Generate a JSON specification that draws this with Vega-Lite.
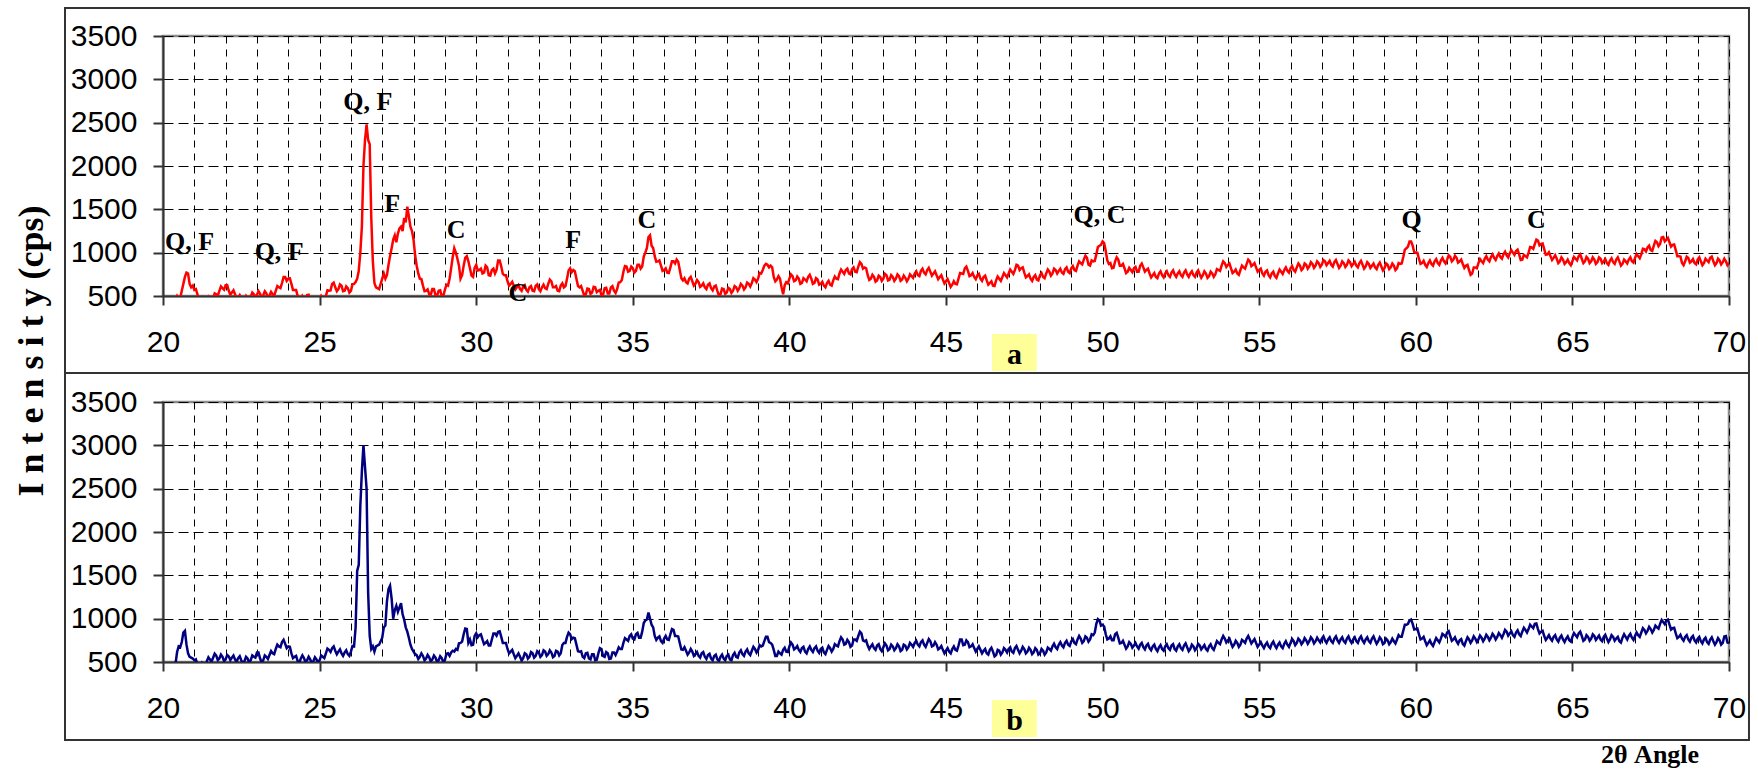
{
"$schema": "https://vega.github.io/schema/vega-lite/v6.json",
"padding": 0,
"background": "white",
"spacing": 106,
"bounds": "flush",
"config": {
 "view": {"stroke": "#8c8c8c", "strokeWidth": 2.5},
 "axis": {"labelFont": "Liberation Sans", "labelFontSize": 30, "labelColor": "#000000", "tickWidth": 2, "tickColor": "#333333", "grid": true, "gridColor": "#000000", "gridWidth": 1, "domainColor": "#333333", "domainWidth": 2}
},
"datasets": {
"xrd": [
{"t":20.0,"a":420,"b":420},{"t":20.1,"a":430,"b":430},{"t":20.2,"a":440,"b":440},{"t":20.3,"a":450,"b":450},{"t":20.4,"a":460,"b":480},
{"t":20.5,"a":470,"b":680},{"t":20.6,"a":560,"b":730},{"t":20.65,"a":640,"b":840},{"t":20.7,"a":720,"b":860},{"t":20.75,"a":770,"b":700},
{"t":20.8,"a":760,"b":600},{"t":20.85,"a":640,"b":560},{"t":20.9,"a":600,"b":550},{"t":20.95,"a":620,"b":540},{"t":21.0,"a":570,"b":520},
{"t":21.1,"a":520,"b":470},{"t":21.2,"a":450,"b":440},{"t":21.3,"a":440,"b":470},{"t":21.4,"a":450,"b":510},{"t":21.5,"a":460,"b":530},
{"t":21.6,"a":470,"b":550},{"t":21.7,"a":520,"b":575},{"t":21.8,"a":560,"b":540},{"t":21.9,"a":590,"b":560},{"t":22.0,"a":625,"b":530},
{"t":22.1,"a":560,"b":565},{"t":22.2,"a":540,"b":550},{"t":22.3,"a":520,"b":530},{"t":22.4,"a":480,"b":545},{"t":22.5,"a":470,"b":520},
{"t":22.6,"a":460,"b":510},{"t":22.7,"a":470,"b":540},{"t":22.8,"a":490,"b":520},{"t":22.9,"a":520,"b":560},{"t":23.0,"a":515,"b":610},
{"t":23.1,"a":525,"b":540},{"t":23.2,"a":510,"b":520},{"t":23.3,"a":530,"b":560},{"t":23.4,"a":505,"b":580},{"t":23.5,"a":520,"b":600},
{"t":23.6,"a":560,"b":650},{"t":23.7,"a":600,"b":680},{"t":23.8,"a":650,"b":730},{"t":23.9,"a":720,"b":710},{"t":24.0,"a":700,"b":680},
{"t":24.1,"a":640,"b":600},{"t":24.2,"a":570,"b":560},{"t":24.3,"a":500,"b":510},{"t":24.4,"a":460,"b":540},{"t":24.5,"a":470,"b":545},
{"t":24.6,"a":510,"b":520},{"t":24.7,"a":450,"b":530},{"t":24.8,"a":440,"b":510},{"t":24.9,"a":450,"b":530},{"t":25.0,"a":460,"b":520},
{"t":25.1,"a":470,"b":560},{"t":25.2,"a":500,"b":600},{"t":25.3,"a":560,"b":640},{"t":25.4,"a":640,"b":660},{"t":25.5,"a":600,"b":630},
{"t":25.6,"a":580,"b":620},{"t":25.7,"a":620,"b":600},{"t":25.8,"a":560,"b":610},{"t":25.9,"a":590,"b":590},{"t":26.0,"a":560,"b":620},
{"t":26.1,"a":640,"b":680},{"t":26.15,"a":660,"b":900},{"t":26.2,"a":700,"b":1550},{"t":26.25,"a":790,"b":1620},{"t":26.3,"a":1000,"b":2300},
{"t":26.35,"a":1300,"b":2700},{"t":26.4,"a":2000,"b":3000},{"t":26.45,"a":2300,"b":2750},{"t":26.5,"a":2480,"b":2500},{"t":26.55,"a":2300,"b":1300},
{"t":26.6,"a":2250,"b":800},{"t":26.65,"a":1400,"b":650},{"t":26.7,"a":900,"b":680},{"t":26.75,"a":650,"b":620},{"t":26.8,"a":600,"b":680},
{"t":26.9,"a":580,"b":700},{"t":27.0,"a":700,"b":780},{"t":27.05,"a":760,"b":900},{"t":27.1,"a":700,"b":920},{"t":27.15,"a":740,"b":1200},
{"t":27.2,"a":860,"b":1340},{"t":27.25,"a":960,"b":1380},{"t":27.3,"a":1050,"b":1230},{"t":27.35,"a":1150,"b":1000},{"t":27.4,"a":1200,"b":1100},
{"t":27.45,"a":1120,"b":1150},{"t":27.5,"a":1220,"b":1080},{"t":27.55,"a":1280,"b":1130},{"t":27.6,"a":1300,"b":1180},{"t":27.65,"a":1250,"b":1050},
{"t":27.7,"a":1400,"b":990},{"t":27.75,"a":1350,"b":900},{"t":27.8,"a":1530,"b":850},{"t":27.85,"a":1420,"b":780},{"t":27.9,"a":1300,"b":700},
{"t":27.95,"a":1250,"b":650},{"t":28.0,"a":1150,"b":620},{"t":28.05,"a":970,"b":590},{"t":28.1,"a":850,"b":580},{"t":28.2,"a":700,"b":560},
{"t":28.3,"a":620,"b":570},{"t":28.4,"a":560,"b":540},{"t":28.5,"a":520,"b":555},{"t":28.6,"a":580,"b":530},{"t":28.7,"a":510,"b":550},
{"t":28.8,"a":560,"b":520},{"t":28.9,"a":500,"b":545},{"t":29.0,"a":570,"b":520},{"t":29.1,"a":620,"b":600},{"t":29.2,"a":820,"b":610},
{"t":29.25,"a":950,"b":630},{"t":29.3,"a":1050,"b":620},{"t":29.35,"a":1000,"b":650},{"t":29.4,"a":930,"b":640},{"t":29.5,"a":700,"b":720},
{"t":29.6,"a":850,"b":820},{"t":29.7,"a":960,"b":880},{"t":29.75,"a":900,"b":720},{"t":29.8,"a":820,"b":760},{"t":29.9,"a":720,"b":700},
{"t":30.0,"a":860,"b":830},{"t":30.1,"a":800,"b":810},{"t":30.2,"a":760,"b":760},{"t":30.3,"a":850,"b":720},{"t":30.4,"a":740,"b":690},
{"t":30.5,"a":800,"b":760},{"t":30.6,"a":760,"b":830},{"t":30.7,"a":910,"b":850},{"t":30.8,"a":840,"b":790},{"t":30.9,"a":740,"b":720},
{"t":31.0,"a":670,"b":650},{"t":31.1,"a":640,"b":620},{"t":31.2,"a":620,"b":590},{"t":31.3,"a":600,"b":570},{"t":31.4,"a":580,"b":560},
{"t":31.5,"a":610,"b":545},{"t":31.6,"a":570,"b":590},{"t":31.7,"a":600,"b":560},{"t":31.8,"a":560,"b":600},{"t":31.9,"a":620,"b":570},
{"t":32.0,"a":580,"b":610},{"t":32.1,"a":600,"b":580},{"t":32.2,"a":590,"b":620},{"t":32.3,"a":640,"b":590},{"t":32.4,"a":670,"b":610},
{"t":32.5,"a":600,"b":570},{"t":32.6,"a":560,"b":620},{"t":32.7,"a":620,"b":600},{"t":32.8,"a":600,"b":720},{"t":32.9,"a":700,"b":790},
{"t":33.0,"a":820,"b":820},{"t":33.1,"a":800,"b":780},{"t":33.2,"a":700,"b":700},{"t":33.3,"a":600,"b":620},{"t":33.4,"a":560,"b":560},
{"t":33.5,"a":520,"b":600},{"t":33.6,"a":580,"b":540},{"t":33.7,"a":540,"b":590},{"t":33.8,"a":600,"b":520},{"t":33.9,"a":560,"b":600},
{"t":34.0,"a":510,"b":650},{"t":34.1,"a":590,"b":560},{"t":34.2,"a":530,"b":600},{"t":34.3,"a":600,"b":540},{"t":34.4,"a":560,"b":610},
{"t":34.5,"a":580,"b":620},{"t":34.6,"a":660,"b":650},{"t":34.7,"a":780,"b":720},{"t":34.8,"a":840,"b":760},{"t":34.9,"a":790,"b":800},
{"t":35.0,"a":820,"b":770},{"t":35.1,"a":790,"b":820},{"t":35.2,"a":860,"b":780},{"t":35.3,"a":840,"b":850},{"t":35.4,"a":1000,"b":980},
{"t":35.5,"a":1180,"b":1070},{"t":35.55,"a":1200,"b":1000},{"t":35.6,"a":1080,"b":930},{"t":35.7,"a":960,"b":800},{"t":35.8,"a":900,"b":780},
{"t":35.9,"a":850,"b":740},{"t":36.0,"a":800,"b":770},{"t":36.1,"a":770,"b":760},{"t":36.2,"a":830,"b":820},{"t":36.3,"a":900,"b":870},
{"t":36.4,"a":920,"b":800},{"t":36.5,"a":800,"b":720},{"t":36.6,"a":680,"b":640},{"t":36.7,"a":660,"b":630},{"t":36.8,"a":700,"b":610},
{"t":36.9,"a":670,"b":620},{"t":37.0,"a":640,"b":590},{"t":37.1,"a":660,"b":570},{"t":37.2,"a":620,"b":600},{"t":37.3,"a":600,"b":560},
{"t":37.4,"a":630,"b":580},{"t":37.5,"a":590,"b":540},{"t":37.6,"a":610,"b":570},{"t":37.7,"a":560,"b":530},{"t":37.8,"a":520,"b":560},
{"t":37.9,"a":580,"b":540},{"t":38.0,"a":540,"b":570},{"t":38.1,"a":580,"b":530},{"t":38.2,"a":560,"b":580},{"t":38.3,"a":600,"b":560},
{"t":38.4,"a":590,"b":610},{"t":38.5,"a":620,"b":590},{"t":38.6,"a":600,"b":620},{"t":38.7,"a":640,"b":600},{"t":38.8,"a":650,"b":630},
{"t":38.9,"a":690,"b":650},{"t":39.0,"a":700,"b":640},{"t":39.1,"a":760,"b":680},{"t":39.2,"a":850,"b":740},{"t":39.3,"a":860,"b":790},
{"t":39.4,"a":850,"b":720},{"t":39.5,"a":720,"b":640},{"t":39.6,"a":690,"b":570},{"t":39.7,"a":700,"b":600},{"t":39.8,"a":520,"b":640},
{"t":39.9,"a":660,"b":620},{"t":40.0,"a":700,"b":680},{"t":40.1,"a":730,"b":700},{"t":40.2,"a":680,"b":660},{"t":40.3,"a":700,"b":640},
{"t":40.4,"a":650,"b":660},{"t":40.5,"a":690,"b":620},{"t":40.6,"a":720,"b":650},{"t":40.7,"a":700,"b":640},{"t":40.8,"a":650,"b":660},
{"t":40.9,"a":690,"b":630},{"t":41.0,"a":640,"b":650},{"t":41.1,"a":620,"b":610},{"t":41.2,"a":650,"b":640},{"t":41.3,"a":630,"b":660},
{"t":41.4,"a":680,"b":650},{"t":41.5,"a":700,"b":690},{"t":41.6,"a":760,"b":740},{"t":41.7,"a":780,"b":760},{"t":41.8,"a":800,"b":710},
{"t":41.9,"a":760,"b":730},{"t":42.0,"a":810,"b":690},{"t":42.1,"a":780,"b":760},{"t":42.2,"a":840,"b":800},{"t":42.3,"a":870,"b":830},
{"t":42.4,"a":830,"b":740},{"t":42.5,"a":740,"b":690},{"t":42.6,"a":700,"b":680},{"t":42.7,"a":720,"b":660},{"t":42.8,"a":680,"b":690},
{"t":42.9,"a":720,"b":650},{"t":43.0,"a":700,"b":670},{"t":43.1,"a":740,"b":690},{"t":43.2,"a":690,"b":650},{"t":43.3,"a":720,"b":680},
{"t":43.4,"a":700,"b":660},{"t":43.5,"a":730,"b":680},{"t":43.6,"a":690,"b":640},{"t":43.7,"a":710,"b":690},{"t":43.8,"a":700,"b":670},
{"t":43.9,"a":730,"b":700},{"t":44.0,"a":760,"b":720},{"t":44.1,"a":740,"b":700},{"t":44.2,"a":790,"b":730},{"t":44.3,"a":770,"b":700},
{"t":44.4,"a":800,"b":720},{"t":44.5,"a":780,"b":740},{"t":44.6,"a":760,"b":690},{"t":44.7,"a":740,"b":700},{"t":44.8,"a":720,"b":660},
{"t":44.9,"a":690,"b":640},{"t":45.0,"a":670,"b":630},{"t":45.1,"a":650,"b":620},{"t":45.2,"a":630,"b":650},{"t":45.3,"a":640,"b":640},
{"t":45.4,"a":700,"b":690},{"t":45.5,"a":760,"b":760},{"t":45.6,"a":820,"b":700},{"t":45.7,"a":790,"b":730},{"t":45.8,"a":740,"b":680},
{"t":45.9,"a":720,"b":660},{"t":46.0,"a":740,"b":650},{"t":46.1,"a":700,"b":640},{"t":46.2,"a":720,"b":630},{"t":46.3,"a":680,"b":600},
{"t":46.4,"a":650,"b":640},{"t":46.5,"a":620,"b":620},{"t":46.6,"a":680,"b":580},{"t":46.7,"a":700,"b":630},{"t":46.8,"a":720,"b":610},
{"t":46.9,"a":740,"b":640},{"t":47.0,"a":760,"b":650},{"t":47.1,"a":780,"b":620},{"t":47.2,"a":800,"b":660},{"t":47.3,"a":850,"b":640},
{"t":47.4,"a":820,"b":630},{"t":47.5,"a":770,"b":650},{"t":47.6,"a":730,"b":620},{"t":47.7,"a":700,"b":640},{"t":47.8,"a":720,"b":610},
{"t":47.9,"a":690,"b":640},{"t":48.0,"a":740,"b":600},{"t":48.1,"a":720,"b":630},{"t":48.2,"a":760,"b":610},{"t":48.3,"a":780,"b":650},
{"t":48.4,"a":760,"b":680},{"t":48.5,"a":800,"b":670},{"t":48.6,"a":790,"b":700},{"t":48.7,"a":770,"b":690},{"t":48.8,"a":810,"b":720},
{"t":48.9,"a":780,"b":700},{"t":49.0,"a":820,"b":740},{"t":49.1,"a":800,"b":720},{"t":49.2,"a":850,"b":760},{"t":49.3,"a":880,"b":770},
{"t":49.4,"a":920,"b":740},{"t":49.5,"a":940,"b":780},{"t":49.6,"a":850,"b":760},{"t":49.7,"a":900,"b":810},{"t":49.8,"a":980,"b":940},
{"t":49.9,"a":1080,"b":980},{"t":50.0,"a":1130,"b":930},{"t":50.1,"a":1020,"b":820},{"t":50.2,"a":870,"b":770},{"t":50.3,"a":820,"b":750},
{"t":50.4,"a":900,"b":820},{"t":50.5,"a":920,"b":780},{"t":50.6,"a":850,"b":720},{"t":50.7,"a":820,"b":700},{"t":50.8,"a":780,"b":680},
{"t":50.9,"a":800,"b":710},{"t":51.0,"a":820,"b":690},{"t":51.1,"a":780,"b":680},{"t":51.2,"a":850,"b":700},{"t":51.3,"a":830,"b":670},
{"t":51.4,"a":800,"b":690},{"t":51.5,"a":760,"b":660},{"t":51.6,"a":740,"b":680},{"t":51.7,"a":720,"b":650},{"t":51.8,"a":760,"b":670},
{"t":51.9,"a":740,"b":650},{"t":52.0,"a":760,"b":680},{"t":52.1,"a":740,"b":660},{"t":52.2,"a":770,"b":690},{"t":52.3,"a":750,"b":650},
{"t":52.4,"a":760,"b":680},{"t":52.5,"a":740,"b":660},{"t":52.6,"a":770,"b":690},{"t":52.7,"a":750,"b":670},{"t":52.8,"a":760,"b":650},
{"t":52.9,"a":740,"b":680},{"t":53.0,"a":770,"b":660},{"t":53.1,"a":750,"b":690},{"t":53.2,"a":740,"b":670},{"t":53.3,"a":760,"b":650},
{"t":53.4,"a":730,"b":680},{"t":53.5,"a":760,"b":660},{"t":53.6,"a":750,"b":690},{"t":53.7,"a":800,"b":720},{"t":53.8,"a":850,"b":760},
{"t":53.9,"a":880,"b":770},{"t":54.0,"a":860,"b":750},{"t":54.1,"a":820,"b":720},{"t":54.2,"a":780,"b":700},{"t":54.3,"a":760,"b":720},
{"t":54.4,"a":800,"b":700},{"t":54.5,"a":830,"b":740},{"t":54.6,"a":870,"b":770},{"t":54.7,"a":900,"b":760},{"t":54.8,"a":860,"b":740},
{"t":54.9,"a":830,"b":720},{"t":55.0,"a":800,"b":700},{"t":55.1,"a":760,"b":690},{"t":55.2,"a":780,"b":700},{"t":55.3,"a":740,"b":680},
{"t":55.4,"a":760,"b":710},{"t":55.5,"a":730,"b":690},{"t":55.6,"a":760,"b":700},{"t":55.7,"a":780,"b":680},{"t":55.8,"a":800,"b":710},
{"t":55.9,"a":790,"b":700},{"t":56.0,"a":820,"b":720},{"t":56.1,"a":800,"b":740},{"t":56.2,"a":830,"b":720},{"t":56.3,"a":850,"b":750},
{"t":56.4,"a":820,"b":730},{"t":56.5,"a":860,"b":750},{"t":56.6,"a":840,"b":740},{"t":56.7,"a":870,"b":760},{"t":56.8,"a":850,"b":740},
{"t":56.9,"a":880,"b":750},{"t":57.0,"a":860,"b":770},{"t":57.1,"a":900,"b":750},{"t":57.2,"a":880,"b":760},{"t":57.3,"a":860,"b":740},
{"t":57.4,"a":890,"b":770},{"t":57.5,"a":870,"b":750},{"t":57.6,"a":850,"b":760},{"t":57.7,"a":880,"b":740},{"t":57.8,"a":860,"b":770},
{"t":57.9,"a":890,"b":750},{"t":58.0,"a":870,"b":760},{"t":58.1,"a":850,"b":740},{"t":58.2,"a":880,"b":770},{"t":58.3,"a":860,"b":750},
{"t":58.4,"a":840,"b":760},{"t":58.5,"a":870,"b":740},{"t":58.6,"a":850,"b":770},{"t":58.7,"a":830,"b":750},{"t":58.8,"a":860,"b":740},
{"t":58.9,"a":840,"b":760},{"t":59.0,"a":820,"b":720},{"t":59.1,"a":860,"b":750},{"t":59.2,"a":830,"b":730},{"t":59.3,"a":850,"b":740},
{"t":59.4,"a":820,"b":760},{"t":59.5,"a":870,"b":790},{"t":59.6,"a":950,"b":860},{"t":59.7,"a":1050,"b":930},{"t":59.8,"a":1130,"b":980},
{"t":59.9,"a":1080,"b":940},{"t":60.0,"a":1000,"b":880},{"t":60.1,"a":930,"b":820},{"t":60.2,"a":880,"b":770},{"t":60.3,"a":860,"b":740},
{"t":60.4,"a":880,"b":720},{"t":60.5,"a":870,"b":710},{"t":60.6,"a":900,"b":730},{"t":60.7,"a":880,"b":750},{"t":60.8,"a":910,"b":770},
{"t":60.9,"a":900,"b":810},{"t":61.0,"a":920,"b":840},{"t":61.1,"a":950,"b":800},{"t":61.2,"a":920,"b":760},{"t":61.3,"a":940,"b":740},
{"t":61.4,"a":900,"b":750},{"t":61.5,"a":870,"b":710},{"t":61.6,"a":850,"b":740},{"t":61.7,"a":800,"b":760},{"t":61.8,"a":760,"b":750},
{"t":61.9,"a":830,"b":770},{"t":62.0,"a":880,"b":760},{"t":62.1,"a":900,"b":780},{"t":62.2,"a":930,"b":770},{"t":62.3,"a":920,"b":790},
{"t":62.4,"a":950,"b":780},{"t":62.5,"a":940,"b":800},{"t":62.6,"a":960,"b":790},{"t":62.7,"a":950,"b":810},{"t":62.8,"a":980,"b":820},
{"t":62.9,"a":970,"b":850},{"t":63.0,"a":990,"b":830},{"t":63.1,"a":1000,"b":810},{"t":63.2,"a":1020,"b":840},{"t":63.3,"a":980,"b":820},
{"t":63.4,"a":920,"b":850},{"t":63.5,"a":960,"b":870},{"t":63.6,"a":1000,"b":880},{"t":63.7,"a":1060,"b":910},{"t":63.8,"a":1100,"b":940},
{"t":63.9,"a":1140,"b":880},{"t":64.0,"a":1100,"b":850},{"t":64.1,"a":1040,"b":800},{"t":64.2,"a":980,"b":780},{"t":64.3,"a":960,"b":770},
{"t":64.4,"a":940,"b":790},{"t":64.5,"a":930,"b":760},{"t":64.6,"a":900,"b":780},{"t":64.7,"a":920,"b":760},{"t":64.8,"a":890,"b":770},
{"t":64.9,"a":880,"b":750},{"t":65.0,"a":900,"b":790},{"t":65.1,"a":930,"b":810},{"t":65.2,"a":960,"b":830},{"t":65.3,"a":930,"b":800},
{"t":65.4,"a":900,"b":760},{"t":65.5,"a":930,"b":790},{"t":65.6,"a":900,"b":770},{"t":65.7,"a":920,"b":800},{"t":65.8,"a":890,"b":780},
{"t":65.9,"a":930,"b":760},{"t":66.0,"a":900,"b":790},{"t":66.1,"a":880,"b":770},{"t":66.2,"a":910,"b":760},{"t":66.3,"a":890,"b":790},
{"t":66.4,"a":920,"b":770},{"t":66.5,"a":900,"b":740},{"t":66.6,"a":870,"b":780},{"t":66.7,"a":900,"b":790},{"t":66.8,"a":920,"b":800},
{"t":66.9,"a":900,"b":780},{"t":67.0,"a":940,"b":800},{"t":67.1,"a":960,"b":810},{"t":67.2,"a":980,"b":840},{"t":67.3,"a":1040,"b":870},
{"t":67.4,"a":1060,"b":860},{"t":67.5,"a":1030,"b":880},{"t":67.6,"a":1080,"b":870},{"t":67.7,"a":1120,"b":900},{"t":67.8,"a":1100,"b":940},
{"t":67.9,"a":1180,"b":960},{"t":68.0,"a":1150,"b":980},{"t":68.1,"a":1120,"b":930},{"t":68.2,"a":1090,"b":890},{"t":68.3,"a":1030,"b":830},
{"t":68.4,"a":960,"b":790},{"t":68.5,"a":880,"b":770},{"t":68.6,"a":900,"b":790},{"t":68.7,"a":940,"b":760},{"t":68.8,"a":900,"b":780},
{"t":68.9,"a":880,"b":750},{"t":69.0,"a":920,"b":770},{"t":69.1,"a":900,"b":740},{"t":69.2,"a":880,"b":760},{"t":69.3,"a":910,"b":730},
{"t":69.4,"a":940,"b":760},{"t":69.5,"a":900,"b":740},{"t":69.6,"a":880,"b":730},{"t":69.7,"a":910,"b":750},{"t":69.8,"a":890,"b":720},
{"t":69.9,"a":900,"b":800},{"t":70.0,"a":880,"b":720},
{"t":20.45,"a":500,"b":615},{"t":20.55,"a":480,"b":670},{"t":21.05,"a":580,"b":530},{"t":21.15,"a":450,"b":420},{"t":21.25,"a":480,"b":490},
{"t":21.35,"a":410,"b":455},{"t":21.45,"a":490,"b":555},{"t":21.55,"a":430,"b":505},{"t":21.65,"a":530,"b":597},{"t":21.75,"a":505,"b":522},
{"t":21.85,"a":610,"b":585},{"t":21.95,"a":572,"b":510},{"t":22.05,"a":627,"b":582},{"t":22.15,"a":515,"b":522},{"t":22.25,"a":565,"b":575},
{"t":22.35,"a":465,"b":502},{"t":22.45,"a":510,"b":567},{"t":22.55,"a":430,"b":480},{"t":22.65,"a":500,"b":560},{"t":22.75,"a":445,"b":495},
{"t":22.85,"a":540,"b":575},{"t":22.95,"a":482,"b":550},{"t":23.05,"a":555,"b":610},{"t":23.15,"a":482,"b":495},{"t":23.25,"a":555,"b":575},
{"t":23.35,"a":482,"b":535},{"t":23.45,"a":547,"b":625},{"t":23.55,"a":505,"b":590},{"t":23.65,"a":615,"b":700},{"t":23.75,"a":590,"b":670},
{"t":23.85,"a":720,"b":755},{"t":23.95,"a":675,"b":660},{"t":24.05,"a":705,"b":675},{"t":24.15,"a":570,"b":545},{"t":24.25,"a":570,"b":570},
{"t":24.35,"a":445,"b":490},{"t":24.45,"a":500,"b":577},{"t":24.55,"a":455,"b":497},{"t":24.65,"a":515,"b":560},{"t":24.75,"a":410,"b":485},
{"t":24.85,"a":480,"b":555},{"t":24.95,"a":420,"b":490},{"t":25.05,"a":500,"b":575},{"t":25.15,"a":450,"b":545},{"t":25.25,"a":565,"b":655},
{"t":25.35,"a":565,"b":615},{"t":25.45,"a":655,"b":680},{"t":25.55,"a":555,"b":590},{"t":25.65,"a":635,"b":645},{"t":25.75,"a":555,"b":570},
{"t":25.85,"a":610,"b":635},{"t":25.95,"a":540,"b":570},{"t":26.05,"a":635,"b":685},{"t":28.15,"a":760,"b":535},{"t":28.25,"a":695,"b":600},
{"t":28.35,"a":555,"b":520},{"t":28.45,"a":575,"b":582},{"t":28.55,"a":515,"b":507},{"t":28.65,"a":580,"b":575},{"t":28.75,"a":500,"b":500},
{"t":28.85,"a":565,"b":567},{"t":28.95,"a":500,"b":497},{"t":29.05,"a":630,"b":595},{"t":29.15,"a":700,"b":570},{"t":29.45,"a":850,"b":715},
{"t":29.55,"a":740,"b":735},{"t":29.65,"a":940,"b":885},{"t":29.85,"a":735,"b":695},{"t":29.95,"a":825,"b":800},{"t":30.05,"a":795,"b":785},
{"t":30.15,"a":815,"b":820},{"t":30.25,"a":770,"b":705},{"t":30.35,"a":830,"b":740},{"t":30.45,"a":735,"b":690},{"t":30.55,"a":815,"b":830},
{"t":30.65,"a":800,"b":805},{"t":30.75,"a":910,"b":855},{"t":30.85,"a":755,"b":720},{"t":30.95,"a":740,"b":720},{"t":31.05,"a":620,"b":600},
{"t":31.15,"a":665,"b":640},{"t":31.25,"a":575,"b":545},{"t":31.35,"a":625,"b":600},{"t":31.45,"a":560,"b":517},{"t":31.55,"a":625,"b":602},
{"t":31.65,"a":550,"b":540},{"t":31.75,"a":615,"b":615},{"t":31.85,"a":555,"b":550},{"t":31.95,"a":635,"b":625},{"t":32.05,"a":555,"b":560},
{"t":32.15,"a":630,"b":635},{"t":32.25,"a":580,"b":570},{"t":32.35,"a":690,"b":635},{"t":32.45,"a":600,"b":555},{"t":32.55,"a":615,"b":630},
{"t":32.65,"a":555,"b":575},{"t":32.75,"a":645,"b":695},{"t":32.85,"a":615,"b":720},{"t":32.95,"a":795,"b":840},{"t":33.05,"a":775,"b":765},
{"t":33.15,"a":785,"b":775},{"t":33.25,"a":615,"b":625},{"t":33.35,"a":615,"b":625},{"t":33.45,"a":505,"b":545},{"t":33.55,"a":585,"b":605},
{"t":33.65,"a":525,"b":530},{"t":33.75,"a":605,"b":590},{"t":33.85,"a":545,"b":525},{"t":33.95,"a":570,"b":660},{"t":34.05,"a":515,"b":570},
{"t":34.15,"a":595,"b":615},{"t":34.25,"a":530,"b":535},{"t":34.35,"a":615,"b":610},{"t":34.45,"a":535,"b":580},{"t":34.55,"a":655,"b":670},
{"t":34.65,"a":685,"b":650},{"t":34.75,"a":845,"b":775},{"t":34.85,"a":780,"b":745},{"t":34.95,"a":840,"b":820},{"t":35.05,"a":770,"b":760},
{"t":35.15,"a":860,"b":835},{"t":35.25,"a":815,"b":780},{"t":35.35,"a":955,"b":950},{"t":35.45,"a":1055,"b":990},{"t":35.65,"a":1055,"b":900},
{"t":35.75,"a":895,"b":755},{"t":35.85,"a":910,"b":795},{"t":35.95,"a":790,"b":720},{"t":36.05,"a":820,"b":800},{"t":36.15,"a":765,"b":755},
{"t":36.25,"a":900,"b":880},{"t":36.35,"a":875,"b":800},{"t":36.45,"a":895,"b":795},{"t":36.55,"a":705,"b":645},{"t":36.65,"a":705,"b":670},
{"t":36.75,"a":645,"b":585},{"t":36.85,"a":720,"b":650},{"t":36.95,"a":620,"b":570},{"t":37.05,"a":685,"b":615},{"t":37.15,"a":605,"b":550},
{"t":37.25,"a":645,"b":615},{"t":37.35,"a":580,"b":535},{"t":37.45,"a":645,"b":595},{"t":37.55,"a":565,"b":520},{"t":37.65,"a":620,"b":585},
{"t":37.75,"a":505,"b":510},{"t":37.85,"a":585,"b":585},{"t":37.95,"a":525,"b":520},{"t":38.05,"a":595,"b":585},{"t":38.15,"a":535,"b":520},
{"t":38.25,"a":615,"b":605},{"t":38.35,"a":560,"b":550},{"t":38.45,"a":640,"b":635},{"t":38.55,"a":575,"b":570},{"t":38.65,"a":655,"b":645},
{"t":38.75,"a":610,"b":580},{"t":38.85,"a":705,"b":675},{"t":38.95,"a":660,"b":610},{"t":39.05,"a":765,"b":695},{"t":39.15,"a":800,"b":690},
{"t":39.25,"a":870,"b":790},{"t":39.35,"a":830,"b":730},{"t":39.45,"a":830,"b":700},{"t":39.55,"a":670,"b":570},{"t":39.65,"a":730,"b":620},
{"t":39.75,"a":600,"b":585},{"t":39.85,"a":625,"b":665},{"t":39.95,"a":645,"b":615},{"t":40.05,"a":750,"b":725},{"t":40.15,"a":670,"b":645},
{"t":40.25,"a":725,"b":685},{"t":40.35,"a":640,"b":615},{"t":40.45,"a":705,"b":675},{"t":40.55,"a":670,"b":600},{"t":40.65,"a":745,"b":680},
{"t":40.75,"a":640,"b":615},{"t":40.85,"a":705,"b":680},{"t":40.95,"a":630,"b":605},{"t":41.05,"a":665,"b":665},{"t":41.15,"a":600,"b":590},
{"t":41.25,"a":675,"b":685},{"t":41.35,"a":620,"b":620},{"t":41.45,"a":725,"b":705},{"t":41.55,"a":695,"b":680},{"t":41.65,"a":805,"b":785},
{"t":41.75,"a":755,"b":700},{"t":41.85,"a":815,"b":755},{"t":41.95,"a":750,"b":675},{"t":42.05,"a":830,"b":760},{"t":42.15,"a":775,"b":745},
{"t":42.25,"a":890,"b":850},{"t":42.35,"a":815,"b":750},{"t":42.45,"a":820,"b":750},{"t":42.55,"a":685,"b":650},{"t":42.65,"a":745,"b":705},
{"t":42.75,"a":665,"b":640},{"t":42.85,"a":735,"b":705},{"t":42.95,"a":675,"b":625},{"t":43.05,"a":755,"b":715},{"t":43.15,"a":680,"b":635},
{"t":43.25,"a":740,"b":700},{"t":43.35,"a":675,"b":635},{"t":43.45,"a":750,"b":705},{"t":43.55,"a":675,"b":625},{"t":43.65,"a":735,"b":700},
{"t":43.75,"a":670,"b":645},{"t":43.85,"a":750,"b":720},{"t":43.95,"a":710,"b":675},{"t":44.05,"a":785,"b":745},{"t":44.15,"a":730,"b":680},
{"t":44.25,"a":815,"b":750},{"t":44.35,"a":750,"b":675},{"t":44.45,"a":825,"b":765},{"t":44.55,"a":735,"b":680},{"t":44.65,"a":785,"b":730},
{"t":44.75,"a":695,"b":645},{"t":44.85,"a":740,"b":685},{"t":44.95,"a":645,"b":600},{"t":45.05,"a":695,"b":660},{"t":45.15,"a":605,"b":600},
{"t":45.25,"a":670,"b":680},{"t":45.35,"a":635,"b":630},{"t":45.45,"a":765,"b":760},{"t":45.55,"a":755,"b":695},{"t":45.65,"a":840,"b":750},
{"t":45.75,"a":730,"b":670},{"t":45.85,"a":765,"b":705},{"t":45.95,"a":695,"b":620},{"t":46.05,"a":755,"b":680},{"t":46.15,"a":675,"b":600},
{"t":46.25,"a":735,"b":650},{"t":46.35,"a":630,"b":585},{"t":46.45,"a":670,"b":665},{"t":46.55,"a":615,"b":565},{"t":46.65,"a":725,"b":640},
{"t":46.75,"a":675,"b":585},{"t":46.85,"a":765,"b":660},{"t":46.95,"a":715,"b":610},{"t":47.05,"a":805,"b":670},{"t":47.15,"a":755,"b":605},
{"t":47.25,"a":860,"b":685},{"t":47.35,"a":800,"b":600},{"t":47.45,"a":830,"b":675},{"t":47.55,"a":715,"b":600},{"t":47.65,"a":750,"b":665},
{"t":47.75,"a":675,"b":590},{"t":47.85,"a":740,"b":660},{"t":47.95,"a":680,"b":585},{"t":48.05,"a":765,"b":650},{"t":48.15,"a":705,"b":585},
{"t":48.25,"a":805,"b":665},{"t":48.35,"a":735,"b":630},{"t":48.45,"a":815,"b":710},{"t":48.55,"a":760,"b":650},{"t":48.65,"a":815,"b":730},
{"t":48.75,"a":755,"b":670},{"t":48.85,"a":830,"b":745},{"t":48.95,"a":765,"b":685},{"t":49.05,"a":845,"b":765},{"t":49.15,"a":790,"b":705},
{"t":49.25,"a":900,"b":800},{"t":49.35,"a":865,"b":720},{"t":49.45,"a":965,"b":795},{"t":49.55,"a":860,"b":735},{"t":49.65,"a":910,"b":820},
{"t":49.75,"a":905,"b":840},{"t":49.85,"a":1065,"b":995},{"t":49.95,"a":1090,"b":920},{"t":50.05,"a":1110,"b":910},{"t":50.15,"a":910,"b":760},
{"t":50.25,"a":880,"b":795},{"t":50.35,"a":825,"b":750},{"t":50.45,"a":945,"b":835},{"t":50.55,"a":850,"b":715},{"t":50.65,"a":870,"b":745},
{"t":50.75,"a":765,"b":655},{"t":50.85,"a":825,"b":730},{"t":50.95,"a":775,"b":665},{"t":51.05,"a":835,"b":720},{"t":51.15,"a":780,"b":655},
{"t":51.25,"a":875,"b":720},{"t":51.35,"a":780,"b":645},{"t":51.45,"a":815,"b":710},{"t":51.55,"a":715,"b":635},{"t":51.65,"a":765,"b":700},
{"t":51.75,"a":705,"b":625},{"t":51.85,"a":785,"b":695},{"t":51.95,"a":715,"b":630},{"t":52.05,"a":785,"b":705},{"t":52.15,"a":720,"b":640},
{"t":52.25,"a":795,"b":705},{"t":52.35,"a":720,"b":630},{"t":52.45,"a":785,"b":705},{"t":52.55,"a":720,"b":640},{"t":52.65,"a":795,"b":715},
{"t":52.75,"a":720,"b":625},{"t":52.85,"a":785,"b":700},{"t":52.95,"a":720,"b":635},{"t":53.05,"a":795,"b":710},{"t":53.15,"a":710,"b":645},
{"t":53.25,"a":785,"b":695},{"t":53.35,"a":710,"b":630},{"t":53.45,"a":780,"b":705},{"t":53.55,"a":720,"b":640},{"t":53.65,"a":810,"b":740},
{"t":53.75,"a":790,"b":705},{"t":53.85,"a":900,"b":800},{"t":53.95,"a":835,"b":725},{"t":54.05,"a":875,"b":770},{"t":54.15,"a":765,"b":675},
{"t":54.25,"a":805,"b":745},{"t":54.35,"a":745,"b":675},{"t":54.45,"a":850,"b":755},{"t":54.55,"a":815,"b":720},{"t":54.65,"a":920,"b":800},
{"t":54.75,"a":845,"b":715},{"t":54.85,"a":880,"b":765},{"t":54.95,"a":780,"b":675},{"t":55.05,"a":815,"b":730},{"t":55.15,"a":735,"b":660},
{"t":55.25,"a":795,"b":725},{"t":55.35,"a":715,"b":660},{"t":55.45,"a":780,"b":735},{"t":55.55,"a":710,"b":660},{"t":55.65,"a":805,"b":725},
{"t":55.75,"a":755,"b":660},{"t":55.85,"a":830,"b":740},{"t":55.95,"a":770,"b":675},{"t":56.05,"a":845,"b":765},{"t":56.15,"a":780,"b":695},
{"t":56.25,"a":875,"b":770},{"t":56.35,"a":800,"b":705},{"t":56.45,"a":875,"b":775},{"t":56.55,"a":815,"b":710},{"t":56.65,"a":890,"b":785},
{"t":56.75,"a":825,"b":715},{"t":56.85,"a":900,"b":780},{"t":56.95,"a":835,"b":725},{"t":57.05,"a":915,"b":795},{"t":57.15,"a":855,"b":720},
{"t":57.25,"a":905,"b":785},{"t":57.35,"a":840,"b":720},{"t":57.45,"a":915,"b":795},{"t":57.55,"a":825,"b":720},{"t":57.65,"a":900,"b":785},
{"t":57.75,"a":835,"b":720},{"t":57.85,"a":910,"b":795},{"t":57.95,"a":845,"b":720},{"t":58.05,"a":895,"b":785},{"t":58.15,"a":830,"b":720},
{"t":58.25,"a":905,"b":795},{"t":58.35,"a":815,"b":720},{"t":58.45,"a":890,"b":785},{"t":58.55,"a":825,"b":720},{"t":58.65,"a":875,"b":795},
{"t":58.75,"a":810,"b":710},{"t":58.85,"a":885,"b":785},{"t":58.95,"a":795,"b":705},{"t":59.05,"a":875,"b":770},{"t":59.15,"a":810,"b":705},
{"t":59.25,"a":875,"b":770},{"t":59.35,"a":800,"b":715},{"t":59.45,"a":880,"b":810},{"t":59.55,"a":875,"b":790},{"t":59.65,"a":1035,"b":930},
{"t":59.75,"a":1070,"b":940},{"t":59.85,"a":1130,"b":990},{"t":59.95,"a":1005,"b":875},{"t":60.05,"a":1000,"b":885},{"t":60.15,"a":870,"b":760},
{"t":60.25,"a":905,"b":790},{"t":60.35,"a":835,"b":695},{"t":60.45,"a":910,"b":750},{"t":60.55,"a":850,"b":685},{"t":60.65,"a":925,"b":775},
{"t":60.75,"a":860,"b":725},{"t":60.85,"a":940,"b":825},{"t":60.95,"a":875,"b":790},{"t":61.05,"a":970,"b":855},{"t":61.15,"a":900,"b":745},
{"t":61.25,"a":965,"b":785},{"t":61.35,"a":885,"b":710},{"t":61.45,"a":920,"b":765},{"t":61.55,"a":825,"b":690},{"t":61.65,"a":860,"b":785},
{"t":61.75,"a":745,"b":720},{"t":61.85,"a":830,"b":795},{"t":61.95,"a":820,"b":730},{"t":62.05,"a":925,"b":805},{"t":62.15,"a":880,"b":740},
{"t":62.25,"a":960,"b":815},{"t":62.35,"a":900,"b":750},{"t":62.45,"a":980,"b":825},{"t":62.55,"a":915,"b":760},{"t":62.65,"a":990,"b":835},
{"t":62.75,"a":930,"b":780},{"t":62.85,"a":1010,"b":870},{"t":62.95,"a":945,"b":805},{"t":63.05,"a":1030,"b":855},{"t":63.15,"a":975,"b":790},
{"t":63.25,"a":1035,"b":865},{"t":63.35,"a":915,"b":800},{"t":63.45,"a":975,"b":895},{"t":63.55,"a":945,"b":840},{"t":63.65,"a":1065,"b":930},
{"t":63.75,"a":1045,"b":890},{"t":63.85,"a":1150,"b":945},{"t":63.95,"a":1085,"b":830},{"t":64.05,"a":1105,"b":860},{"t":64.15,"a":975,"b":755},
{"t":64.25,"a":1005,"b":810},{"t":64.35,"a":915,"b":745},{"t":64.45,"a":970,"b":810},{"t":64.55,"a":880,"b":735},{"t":64.65,"a":945,"b":805},
{"t":64.75,"a":870,"b":730},{"t":64.85,"a":920,"b":795},{"t":64.95,"a":855,"b":735},{"t":65.05,"a":950,"b":835},{"t":65.15,"a":910,"b":785},
{"t":65.25,"a":980,"b":850},{"t":65.35,"a":880,"b":745},{"t":65.45,"a":950,"b":810},{"t":65.55,"a":880,"b":745},{"t":65.65,"a":945,"b":820},
{"t":65.75,"a":870,"b":755},{"t":65.85,"a":945,"b":805},{"t":65.95,"a":880,"b":740},{"t":66.05,"a":925,"b":815},{"t":66.15,"a":860,"b":730},
{"t":66.25,"a":935,"b":810},{"t":66.35,"a":870,"b":745},{"t":66.45,"a":945,"b":790},{"t":66.55,"a":850,"b":725},{"t":66.65,"a":920,"b":820},
{"t":66.75,"a":875,"b":760},{"t":66.85,"a":945,"b":825},{"t":66.95,"a":885,"b":755},{"t":67.05,"a":985,"b":840},{"t":67.15,"a":935,"b":790},
{"t":67.25,"a":1045,"b":890},{"t":67.35,"a":1015,"b":830},{"t":67.45,"a":1080,"b":905},{"t":67.55,"a":1020,"b":840},{"t":67.65,"a":1135,"b":920},
{"t":67.75,"a":1075,"b":885},{"t":67.85,"a":1175,"b":985},{"t":67.95,"a":1130,"b":935},{"t":68.05,"a":1170,"b":990},{"t":68.15,"a":1070,"b":875},
{"t":68.25,"a":1095,"b":895},{"t":68.35,"a":960,"b":775},{"t":68.45,"a":955,"b":815},{"t":68.55,"a":855,"b":745},{"t":68.65,"a":955,"b":810},
{"t":68.75,"a":885,"b":735},{"t":68.85,"a":925,"b":800},{"t":68.95,"a":865,"b":725},{"t":69.05,"a":945,"b":790},{"t":69.15,"a":855,"b":715},
{"t":69.25,"a":930,"b":780},{"t":69.35,"a":890,"b":710},{"t":69.45,"a":955,"b":785},{"t":69.55,"a":855,"b":700},{"t":69.65,"a":930,"b":775},
{"t":69.75,"a":865,"b":700},{"t":69.85,"a":930,"b":795},{"t":69.95,"a":855,"b":725}
],
"labA": [
{"t":20.85,"v":1122,"label":"Q, F"},
{"t":23.71,"v":1006,"label":"Q, F"},
{"t":26.54,"v":2741,"label":"Q, F"},
{"t":27.32,"v":1563,"label":"F"},
{"t":29.36,"v":1256,"label":"C"},
{"t":31.33,"v":538,"label":"C"},
{"t":33.10,"v":1141,"label":"F"},
{"t":35.45,"v":1373,"label":"C"},
{"t":49.9,"v":1438,"label":"Q, C"},
{"t":59.87,"v":1373,"label":"Q"},
{"t":63.85,"v":1373,"label":"C"}
]
},
"vconcat": [
{
"width": 1566, "height": 260,
"layer": [
{"data": {"values": [{}]}, "mark": {"type": "rect", "opacity": 0},
 "encoding": {
  "x": {"datum": 14.8595, "type": "quantitative", "title": null, "scale": {"domain": [20,70], "nice": false, "zero": false},
   "axis": {"values": [20,21,22,23,24,25,26,27,28,29,30,31,32,33,34,35,36,37,38,39,40,41,42,43,44,45,46,47,48,49,50,51,52,53,54,55,56,57,58,59,60,61,62,63,64,65,66,67,68,69,70], "labelExpr": "datum.value % 5 === 0 ? datum.label : ''", "labelPadding": 22, "labelFlush": false, "labelOverlap": false, "tickSize": 9, "tickOpacity": {"condition": {"test": "datum.value % 5 === 0", "value": 1}, "value": 0}, "gridDash": [7,6], "title": null}},
  "x2": {"datum": 70},
  "y": {"datum": 3892.3, "type": "quantitative", "title": null, "scale": {"domain": [500,3500], "nice": false, "zero": false},
   "axis": {"values": [500,1000,1500,2000,2500,3000,3500], "format": "d", "labelPadding": 16, "tickSize": 10, "gridDash": [10,5], "title": null}},
  "y2": {"datum": 500}}},
{"data": {"values": [{}]}, "mark": {"type": "rect", "filled": false, "stroke": "#333333", "strokeWidth": 2},
 "encoding": {
  "x": {"datum": 16.871, "type": "quantitative", "title": null, "scale": {"domain": [20,70], "nice": false, "zero": false},
   "axis": {"values": [20,21,22,23,24,25,26,27,28,29,30,31,32,33,34,35,36,37,38,39,40,41,42,43,44,45,46,47,48,49,50,51,52,53,54,55,56,57,58,59,60,61,62,63,64,65,66,67,68,69,70], "labelExpr": "datum.value % 5 === 0 ? datum.label : ''", "labelPadding": 22, "labelFlush": false, "labelOverlap": false, "tickSize": 9, "tickOpacity": {"condition": {"test": "datum.value % 5 === 0", "value": 1}, "value": 0}, "gridDash": [7,6], "title": null}},
  "x2": {"datum": 70.638},
  "y": {"datum": 3823, "type": "quantitative", "title": null, "scale": {"domain": [500,3500], "nice": false, "zero": false},
   "axis": {"values": [500,1000,1500,2000,2500,3000,3500], "format": "d", "labelPadding": 16, "tickSize": 10, "gridDash": [10,5], "title": null}},
  "y2": {"datum": -388}}},
{"data": {"name": "xrd"}, "mark": {"type": "line", "color": "#ff0000", "strokeWidth": 2.5, "clip": true},
 "encoding": {
  "x": {"field": "t", "type": "quantitative", "title": null, "scale": {"domain": [20,70], "nice": false, "zero": false},
   "axis": {"values": [20,21,22,23,24,25,26,27,28,29,30,31,32,33,34,35,36,37,38,39,40,41,42,43,44,45,46,47,48,49,50,51,52,53,54,55,56,57,58,59,60,61,62,63,64,65,66,67,68,69,70], "labelExpr": "datum.value % 5 === 0 ? datum.label : ''", "labelPadding": 22, "labelFlush": false, "labelOverlap": false, "tickSize": 9, "tickOpacity": {"condition": {"test": "datum.value % 5 === 0", "value": 1}, "value": 0}, "gridDash": [7,6], "title": null}},
  "y": {"field": "a", "type": "quantitative", "title": null, "scale": {"domain": [500,3500], "nice": false, "zero": false},
   "axis": {"values": [500,1000,1500,2000,2500,3000,3500], "format": "d", "labelPadding": 16, "tickSize": 10, "gridDash": [10,5], "title": null}}
 }},
{"data": {"name": "labA"}, "mark": {"type": "text", "font": "Liberation Serif", "fontWeight": "bold", "fontSize": 26, "color": "#000000", "align": "center", "baseline": "middle"},
 "encoding": {
  "x": {"field": "t", "type": "quantitative", "title": null, "scale": {"domain": [20,70], "nice": false, "zero": false},
   "axis": {"values": [20,21,22,23,24,25,26,27,28,29,30,31,32,33,34,35,36,37,38,39,40,41,42,43,44,45,46,47,48,49,50,51,52,53,54,55,56,57,58,59,60,61,62,63,64,65,66,67,68,69,70], "labelExpr": "datum.value % 5 === 0 ? datum.label : ''", "labelPadding": 22, "labelFlush": false, "labelOverlap": false, "tickSize": 9, "tickOpacity": {"condition": {"test": "datum.value % 5 === 0", "value": 1}, "value": 0}, "gridDash": [7,6], "title": null}},
  "y": {"field": "v", "type": "quantitative", "title": null, "scale": {"domain": [500,3500], "nice": false, "zero": false},
   "axis": {"values": [500,1000,1500,2000,2500,3000,3500], "format": "d", "labelPadding": 16, "tickSize": 10, "gridDash": [10,5], "title": null}},
  "text": {"field": "label"}}},
{"data": {"values": [{}]}, "mark": {"type": "rect", "fill": "#ffff99"},
 "encoding": {
  "x": {"datum": 46.47, "type": "quantitative", "title": null, "scale": {"domain": [20,70], "nice": false, "zero": false},
   "axis": {"values": [20,21,22,23,24,25,26,27,28,29,30,31,32,33,34,35,36,37,38,39,40,41,42,43,44,45,46,47,48,49,50,51,52,53,54,55,56,57,58,59,60,61,62,63,64,65,66,67,68,69,70], "labelExpr": "datum.value % 5 === 0 ? datum.label : ''", "labelPadding": 22, "labelFlush": false, "labelOverlap": false, "tickSize": 9, "tickOpacity": {"condition": {"test": "datum.value % 5 === 0", "value": 1}, "value": 0}, "gridDash": [7,6], "title": null}},
  "x2": {"datum": 47.9},
  "y": {"datum": 62, "type": "quantitative", "title": null, "scale": {"domain": [500,3500], "nice": false, "zero": false},
   "axis": {"values": [500,1000,1500,2000,2500,3000,3500], "format": "d", "labelPadding": 16, "tickSize": 10, "gridDash": [10,5], "title": null}},
  "y2": {"datum": -365}}},
{"data": {"values": [{"label": "a"}]}, "mark": {"type": "text", "font": "Liberation Serif", "fontWeight": "bold", "fontSize": 30, "color": "#000000", "align": "center", "baseline": "alphabetic"},
 "encoding": {
  "x": {"datum": 47.19, "type": "quantitative", "title": null, "scale": {"domain": [20,70], "nice": false, "zero": false},
   "axis": {"values": [20,21,22,23,24,25,26,27,28,29,30,31,32,33,34,35,36,37,38,39,40,41,42,43,44,45,46,47,48,49,50,51,52,53,54,55,56,57,58,59,60,61,62,63,64,65,66,67,68,69,70], "labelExpr": "datum.value % 5 === 0 ? datum.label : ''", "labelPadding": 22, "labelFlush": false, "labelOverlap": false, "tickSize": 9, "tickOpacity": {"condition": {"test": "datum.value % 5 === 0", "value": 1}, "value": 0}, "gridDash": [7,6], "title": null}},
  "y": {"datum": -285, "type": "quantitative", "title": null, "scale": {"domain": [500,3500], "nice": false, "zero": false},
   "axis": {"values": [500,1000,1500,2000,2500,3000,3500], "format": "d", "labelPadding": 16, "tickSize": 10, "gridDash": [10,5], "title": null}},
  "text": {"field": "label"}}},
{"data": {"values": [{"label": "I n t e n s i t y (cps)"}]}, "mark": {"type": "text", "font": "Liberation Serif", "fontWeight": "bold", "fontSize": 36, "color": "#000000", "align": "center", "baseline": "alphabetic", "angle": 270},
 "encoding": {
  "x": {"datum": 16.169, "type": "quantitative", "title": null, "scale": {"domain": [20,70], "nice": false, "zero": false},
   "axis": {"values": [20,21,22,23,24,25,26,27,28,29,30,31,32,33,34,35,36,37,38,39,40,41,42,43,44,45,46,47,48,49,50,51,52,53,54,55,56,57,58,59,60,61,62,63,64,65,66,67,68,69,70], "labelExpr": "datum.value % 5 === 0 ? datum.label : ''", "labelPadding": 22, "labelFlush": false, "labelOverlap": false, "tickSize": 9, "tickOpacity": {"condition": {"test": "datum.value % 5 === 0", "value": 1}, "value": 0}, "gridDash": [7,6], "title": null}},
  "y": {"datum": -135, "type": "quantitative", "title": null, "scale": {"domain": [500,3500], "nice": false, "zero": false},
   "axis": {"values": [500,1000,1500,2000,2500,3000,3500], "format": "d", "labelPadding": 16, "tickSize": 10, "gridDash": [10,5], "title": null}},
  "text": {"field": "label"}}}
]
},
{
"width": 1566, "height": 260,
"layer": [
{"data": {"values": [{}]}, "mark": {"type": "rect", "filled": false, "stroke": "#333333", "strokeWidth": 2},
 "encoding": {
  "x": {"datum": 16.871, "type": "quantitative", "title": null, "scale": {"domain": [20,70], "nice": false, "zero": false},
   "axis": {"values": [20,21,22,23,24,25,26,27,28,29,30,31,32,33,34,35,36,37,38,39,40,41,42,43,44,45,46,47,48,49,50,51,52,53,54,55,56,57,58,59,60,61,62,63,64,65,66,67,68,69,70], "labelExpr": "datum.value % 5 === 0 ? datum.label : ''", "labelPadding": 22, "labelFlush": false, "labelOverlap": false, "tickSize": 9, "tickOpacity": {"condition": {"test": "datum.value % 5 === 0", "value": 1}, "value": 0}, "gridDash": [7,6], "title": null}},
  "x2": {"datum": 70.638},
  "y": {"datum": 3835, "type": "quantitative", "title": null, "scale": {"domain": [500,3500], "nice": false, "zero": false},
   "axis": {"values": [500,1000,1500,2000,2500,3000,3500], "format": "d", "labelPadding": 16, "tickSize": 10, "gridDash": [10,5], "title": null}},
  "y2": {"datum": -400}}},
{"data": {"name": "xrd"}, "mark": {"type": "line", "color": "#000080", "strokeWidth": 2.5, "clip": true},
 "encoding": {
  "x": {"field": "t", "type": "quantitative", "title": null, "scale": {"domain": [20,70], "nice": false, "zero": false},
   "axis": {"values": [20,21,22,23,24,25,26,27,28,29,30,31,32,33,34,35,36,37,38,39,40,41,42,43,44,45,46,47,48,49,50,51,52,53,54,55,56,57,58,59,60,61,62,63,64,65,66,67,68,69,70], "labelExpr": "datum.value % 5 === 0 ? datum.label : ''", "labelPadding": 22, "labelFlush": false, "labelOverlap": false, "tickSize": 9, "tickOpacity": {"condition": {"test": "datum.value % 5 === 0", "value": 1}, "value": 0}, "gridDash": [7,6], "title": null}},
  "y": {"field": "b", "type": "quantitative", "title": null, "scale": {"domain": [500,3500], "nice": false, "zero": false},
   "axis": {"values": [500,1000,1500,2000,2500,3000,3500], "format": "d", "labelPadding": 16, "tickSize": 10, "gridDash": [10,5], "title": null}}
 }},
{"data": {"values": [{}]}, "mark": {"type": "rect", "fill": "#ffff99"},
 "encoding": {
  "x": {"datum": 46.47, "type": "quantitative", "title": null, "scale": {"domain": [20,70], "nice": false, "zero": false},
   "axis": {"values": [20,21,22,23,24,25,26,27,28,29,30,31,32,33,34,35,36,37,38,39,40,41,42,43,44,45,46,47,48,49,50,51,52,53,54,55,56,57,58,59,60,61,62,63,64,65,66,67,68,69,70], "labelExpr": "datum.value % 5 === 0 ? datum.label : ''", "labelPadding": 22, "labelFlush": false, "labelOverlap": false, "tickSize": 9, "tickOpacity": {"condition": {"test": "datum.value % 5 === 0", "value": 1}, "value": 0}, "gridDash": [7,6], "title": null}},
  "x2": {"datum": 47.9},
  "y": {"datum": 62, "type": "quantitative", "title": null, "scale": {"domain": [500,3500], "nice": false, "zero": false},
   "axis": {"values": [500,1000,1500,2000,2500,3000,3500], "format": "d", "labelPadding": 16, "tickSize": 10, "gridDash": [10,5], "title": null}},
  "y2": {"datum": -365}}},
{"data": {"values": [{"label": "b"}]}, "mark": {"type": "text", "font": "Liberation Serif", "fontWeight": "bold", "fontSize": 30, "color": "#000000", "align": "center", "baseline": "alphabetic"},
 "encoding": {
  "x": {"datum": 47.19, "type": "quantitative", "title": null, "scale": {"domain": [20,70], "nice": false, "zero": false},
   "axis": {"values": [20,21,22,23,24,25,26,27,28,29,30,31,32,33,34,35,36,37,38,39,40,41,42,43,44,45,46,47,48,49,50,51,52,53,54,55,56,57,58,59,60,61,62,63,64,65,66,67,68,69,70], "labelExpr": "datum.value % 5 === 0 ? datum.label : ''", "labelPadding": 22, "labelFlush": false, "labelOverlap": false, "tickSize": 9, "tickOpacity": {"condition": {"test": "datum.value % 5 === 0", "value": 1}, "value": 0}, "gridDash": [7,6], "title": null}},
  "y": {"datum": -285, "type": "quantitative", "title": null, "scale": {"domain": [500,3500], "nice": false, "zero": false},
   "axis": {"values": [500,1000,1500,2000,2500,3000,3500], "format": "d", "labelPadding": 16, "tickSize": 10, "gridDash": [10,5], "title": null}},
  "text": {"field": "label"}}},
{"data": {"values": [{"label": "2θ Angle"}]}, "mark": {"type": "text", "font": "Liberation Serif", "fontWeight": "bold", "fontSize": 26, "color": "#000000", "align": "center", "baseline": "middle"},
 "encoding": {
  "x": {"datum": 67.48, "type": "quantitative", "title": null, "scale": {"domain": [20,70], "nice": false, "zero": false},
   "axis": {"values": [20,21,22,23,24,25,26,27,28,29,30,31,32,33,34,35,36,37,38,39,40,41,42,43,44,45,46,47,48,49,50,51,52,53,54,55,56,57,58,59,60,61,62,63,64,65,66,67,68,69,70], "labelExpr": "datum.value % 5 === 0 ? datum.label : ''", "labelPadding": 22, "labelFlush": false, "labelOverlap": false, "tickSize": 9, "tickOpacity": {"condition": {"test": "datum.value % 5 === 0", "value": 1}, "value": 0}, "gridDash": [7,6], "title": null}},
  "y": {"datum": -573, "type": "quantitative", "title": null, "scale": {"domain": [500,3500], "nice": false, "zero": false},
   "axis": {"values": [500,1000,1500,2000,2500,3000,3500], "format": "d", "labelPadding": 16, "tickSize": 10, "gridDash": [10,5], "title": null}},
  "text": {"field": "label"}}}
]
}
]
}
